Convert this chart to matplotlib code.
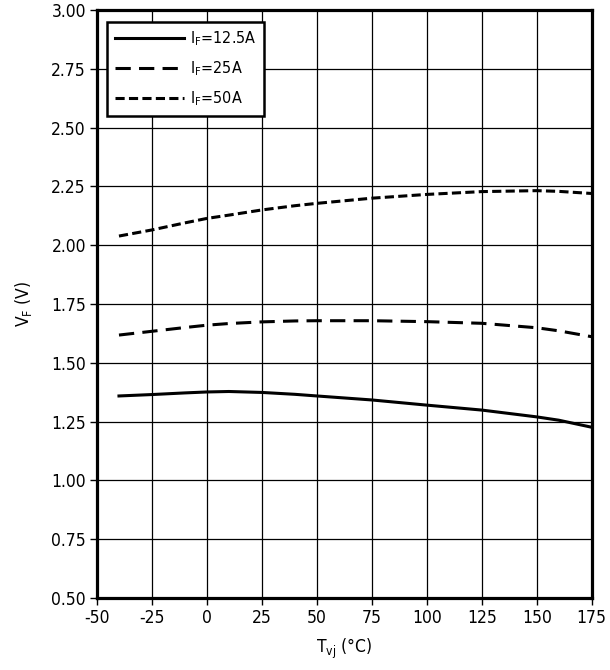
import matplotlib
matplotlib.use("Agg")
import matplotlib.pyplot as plt

plt.rcParams['font.family'] = ['DejaVu Sans']
plt.rcParams['font.stretch'] = 'condensed'
plt.rcParams['mathtext.fontset'] = 'custom'
plt.rcParams['mathtext.rm'] = 'DejaVu Sans:stretch=condensed'
plt.rcParams['mathtext.it'] = 'DejaVu Sans:stretch=condensed'
plt.rcParams['axes.unicode_minus'] = False

# forward voltage vs junction temperature, one curve per forward current
tvj = [-40, -25, -10, 0, 10, 25, 40, 50, 75, 100, 125, 150, 160, 175]
vf_12a5 = [1.359, 1.365, 1.372, 1.376, 1.378, 1.374, 1.366, 1.359, 1.342, 1.320, 1.299, 1.270, 1.256, 1.226]
vf_25a = [1.618, 1.634, 1.650, 1.660, 1.667, 1.674, 1.678, 1.679, 1.679, 1.675, 1.668, 1.649, 1.636, 1.611]
vf_50a = [2.039, 2.065, 2.095, 2.114, 2.128, 2.150, 2.168, 2.178, 2.200, 2.216, 2.228, 2.232, 2.229, 2.220]

xticks = [-50, -25, 0, 25, 50, 75, 100, 125, 150, 175]
yticks = [0.5, 0.75, 1.0, 1.25, 1.5, 1.75, 2.0, 2.25, 2.5, 2.75, 3.0]

fig = plt.figure(figsize=(6.1, 6.7), dpi=100)
ax = fig.add_axes([0.159, 0.1075, 0.811, 0.8775])

lw = 2.2
ax.plot(tvj, vf_12a5, color='black', lw=lw, label='I$_\\mathregular{F}$=12.5A')
ax.plot(tvj, vf_25a, color='black', lw=lw, dashes=(5, 2.7), label='I$_\\mathregular{F}$=25A')
ax.plot(tvj, vf_50a, color='black', lw=lw, dashes=(3, 1.4), label='I$_\\mathregular{F}$=50A')

ax.set_xlim(-50, 175)
ax.set_ylim(0.5, 3.0)
ax.set_xticks(xticks)
ax.set_yticks(yticks)
ax.set_yticklabels(['%.2f' % v for v in yticks])
ax.grid(True, color='black', lw=0.9)
ax.set_axisbelow(True)
for s in ax.spines.values():
    s.set_linewidth(2.3)
ax.tick_params(direction='out', length=5, width=1, labelsize=12.5, pad=3)

ax.set_xlabel('T$_\\mathregular{vj}$ (°C)', fontsize=12.5, labelpad=7)
ax.set_ylabel('V$_\\mathregular{F}$ (V)', fontsize=12.5, labelpad=12)

leg = ax.legend(loc='upper left', bbox_to_anchor=(0.02, 0.98), borderaxespad=0,
                fontsize=11.5, handlelength=4.3, handletextpad=0.4, labelspacing=0.7,
                fancybox=False, framealpha=1, borderpad=0.5)
leg.get_frame().set_edgecolor('black')
leg.get_frame().set_linewidth(1.8)

fig.savefig('out.png', dpi=100)
